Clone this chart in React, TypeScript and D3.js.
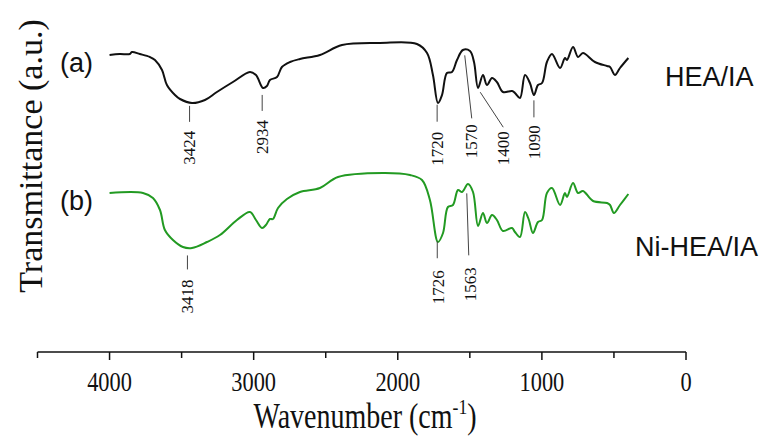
import React from "react";
import * as d3 from "d3";

const W = 763;
const H = 441;

// Spectrum (a) HEA/IA — wavenumber (cm-1) and transmittance (a.u.)
const wavenumbersA = [4000, 3930, 3860, 3845, 3790, 3720, 3685, 3636, 3602, 3546, 3511, 3428, 3338, 3255, 3144, 3026, 2984, 2935, 2908, 2887, 2838, 2804, 2748, 2679, 2540, 2387, 2124, 1867, 1797, 1756, 1721, 1693, 1659, 1624, 1589, 1548, 1499, 1471, 1443, 1409, 1381, 1346, 1312, 1270, 1207, 1187, 1152, 1117, 1083, 1055, 1027, 999, 965, 930, 874, 840, 826, 784, 749, 715, 632, 548, 527, 493, 458, 400];
const transmittanceA = [295, 296, 296, 298, 296, 293, 290, 280, 265, 255, 251, 247, 250, 258, 268, 278, 275, 262, 264, 270, 273, 283, 288, 291, 295, 305, 307, 306, 297, 275, 247, 255, 277, 278, 290, 300, 299, 288, 262, 275, 265, 272, 268, 258, 259, 257, 252, 275, 267, 255, 265, 267, 288, 296, 282, 292, 290, 303, 293, 297, 288, 284, 283, 275, 282, 292];

// Spectrum (b) Ni-HEA/IA
const wavenumbersB = [4000, 3768, 3699, 3650, 3616, 3560, 3491, 3428, 3324, 3234, 3116, 3026, 2984, 2942, 2915, 2887, 2866, 2831, 2769, 2679, 2540, 2415, 2103, 1915, 1832, 1777, 1721, 1686, 1652, 1617, 1582, 1554, 1513, 1478, 1443, 1409, 1381, 1346, 1312, 1270, 1207, 1187, 1152, 1117, 1090, 1062, 1027, 999, 965, 930, 874, 840, 826, 784, 749, 715, 645, 548, 527, 500, 458, 400];
const transmittanceB = [157, 157, 152, 140, 120, 110, 103, 102, 108, 115, 130, 138, 130, 122, 125, 131, 131, 142, 151, 158, 162, 173, 177, 175, 170, 150, 108, 117, 143, 145, 160, 158, 166, 158, 124, 137, 127, 135, 130, 119, 122, 118, 113, 138, 130, 117, 128, 130, 157, 162, 145, 157, 153, 167, 157, 159, 149, 147, 145, 137, 145, 156];

const xMajorTicks = [4000, 3000, 2000, 1000, 0];
const xMinorTicks = [4500, 3500, 2500, 1500, 500];
const xDomain = [4500, 0];
const yDomain = [0, 320];

const sampleTags = ["(a)", "(b)"];
const sampleNames = ["HEA/IA", "Ni-HEA/IA"];
const lineColors = ["#111111", "#229a22"];

const peaksA = [3424, 2934, 1720, 1570, 1400, 1090];
const peaksB = [3418, 1726, 1563];

// annotation layout offsets (pixels) relative to the curve point
type Ann = { dx1: number; dy1: number; dx2: number; dy2: number; tdx: number; tdy: number };
const annLayoutA: Ann[] = [
  { dx1: -3, dy1: 3, dx2: -3, dy2: 19, tdx: -3, tdy: 45 },
  { dx1: -1, dy1: 7, dx2: -1, dy2: 23, tdx: -1, tdy: 49 },
  { dx1: -1, dy1: 2, dx2: -1, dy2: 19, tdx: -1, tdy: 46 },
  { dx1: 5, dy1: 0, dx2: 12, dy2: 63, tdx: 12, tdy: 86 },
  { dx1: -4, dy1: 14, dx2: 19, dy2: 49, tdx: 19, tdy: 70 },
  { dx1: 5, dy1: 19, dx2: 5, dy2: 36, tdx: 6, tdy: 61 },
];
const annLayoutB: Ann[] = [
  { dx1: -6, dy1: 8, dx2: -6, dy2: 22, tdx: -6, tdy: 49 },
  { dx1: 0, dy1: 3, dx2: 0, dy2: 20, tdx: 1, tdy: 49 },
  { dx1: 6, dy1: 2, dx2: 8, dy2: 64, tdx: 10, tdy: 93 },
];

const AXIS_Y = 352;

function valueAt(ws: number[], vs: number[], w: number) {
  for (let i = 0; i < ws.length - 1; i++) {
    if (w <= ws[i] && w >= ws[i + 1]) {
      const t = (ws[i] - w) / (ws[i] - ws[i + 1]);
      return vs[i] + t * (vs[i + 1] - vs[i]);
    }
  }
  return vs[vs.length - 1];
}

export default function App() {
  const x = d3.scaleLinear().domain(xDomain).range([37.5, 686]);
  const y = d3.scaleLinear().domain(yDomain).range([350, 30]);

  const series = [
    { ws: wavenumbersA, vs: transmittanceA, peaks: peaksA, layout: annLayoutA },
    { ws: wavenumbersB, vs: transmittanceB, peaks: peaksB, layout: annLayoutB },
  ];

  const line = d3
    .line<[number, number]>()
    .x((d) => x(d[0]))
    .y((d) => y(d[1]))
    .curve(d3.curveCatmullRom.alpha(0.5));

  const serif = "'Liberation Serif', 'Times New Roman', serif";
  const sans = "'Liberation Sans', Arial, sans-serif";

  return (
    <svg
      width={W}
      height={H}
      style={{ position: "absolute", left: 0, top: 0, background: "#fff" }}
    >
      <rect width={W} height={H} fill="#fff" />
      {series.map((s, si) => {
        const pts = s.ws.map((w, i) => [w, s.vs[i]] as [number, number]);
        return (
          <g key={si}>
            <path d={line(pts) || ""} fill="none" stroke={lineColors[si]} strokeWidth={2} strokeLinejoin="round" />
            <text
              x={60}
              y={y(s.vs[0]) + 8}
              dominantBaseline="central"
              fontFamily={sans}
              fontSize={27}
              fill="#111"
            >
              {sampleTags[si]}
            </text>
            <text
              x={si === 0 ? 665 : 635}
              y={y(s.vs[0]) + (si === 0 ? 22 : 54)}
              dominantBaseline="central"
              fontFamily={sans}
              fontSize={27}
              fill="#111"
            >
              {sampleNames[si]}
            </text>
            {s.peaks.map((p, pi) => {
              const L = s.layout[pi];
              const px = x(p);
              const py = y(valueAt(s.ws, s.vs, p));
              return (
                <g key={pi}>
                  <line
                    x1={px + L.dx1}
                    y1={py + L.dy1}
                    x2={px + L.dx2}
                    y2={py + L.dy2}
                    stroke="#444"
                    strokeWidth={1}
                  />
                  <text
                    transform={`translate(${px + L.tdx},${py + L.tdy}) rotate(-90)`}
                    textAnchor="middle"
                    dominantBaseline="central"
                    fontFamily={serif}
                    fontSize={17}
                    fill="#111"
                  >
                    {p}
                  </text>
                </g>
              );
            })}
          </g>
        );
      })}

      {/* x axis */}
      <line x1={x(xDomain[0])} x2={x(xDomain[1])} y1={AXIS_Y} y2={AXIS_Y} stroke="#111" strokeWidth={1.5} />
      {xMinorTicks.map((t) => (
        <line key={"m" + t} x1={x(t)} x2={x(t)} y1={AXIS_Y} y2={AXIS_Y + 6} stroke="#111" strokeWidth={1.5} />
      ))}
      {xMajorTicks.map((t) => (
        <g key={t}>
          <line x1={x(t)} x2={x(t)} y1={AXIS_Y} y2={AXIS_Y + 8} stroke="#111" strokeWidth={1.5} />
          <text
            transform={`translate(${x(t)},${AXIS_Y + 29}) scale(0.8,1)`}
            textAnchor="middle"
            dominantBaseline="central"
            fontFamily={serif}
            fontSize={28}
            fill="#111"
          >
            {t}
          </text>
        </g>
      ))}
      <text
        transform={`translate(365,428) scale(0.8,1)`}
        textAnchor="middle"
        fontFamily={serif}
        fontSize={35}
        fill="#111"
      >
        Wavenumber (cm
        <tspan fontSize={22} dy={-14}>-1</tspan>
        <tspan dy={14}>)</tspan>
      </text>
      <text
        transform={`translate(30,156) rotate(-90)`}
        textAnchor="middle"
        dominantBaseline="central"
        fontFamily={serif}
        fontSize={34}
        fill="#111"
      >
        Transmittance (a.u.)
      </text>
    </svg>
  );
}
